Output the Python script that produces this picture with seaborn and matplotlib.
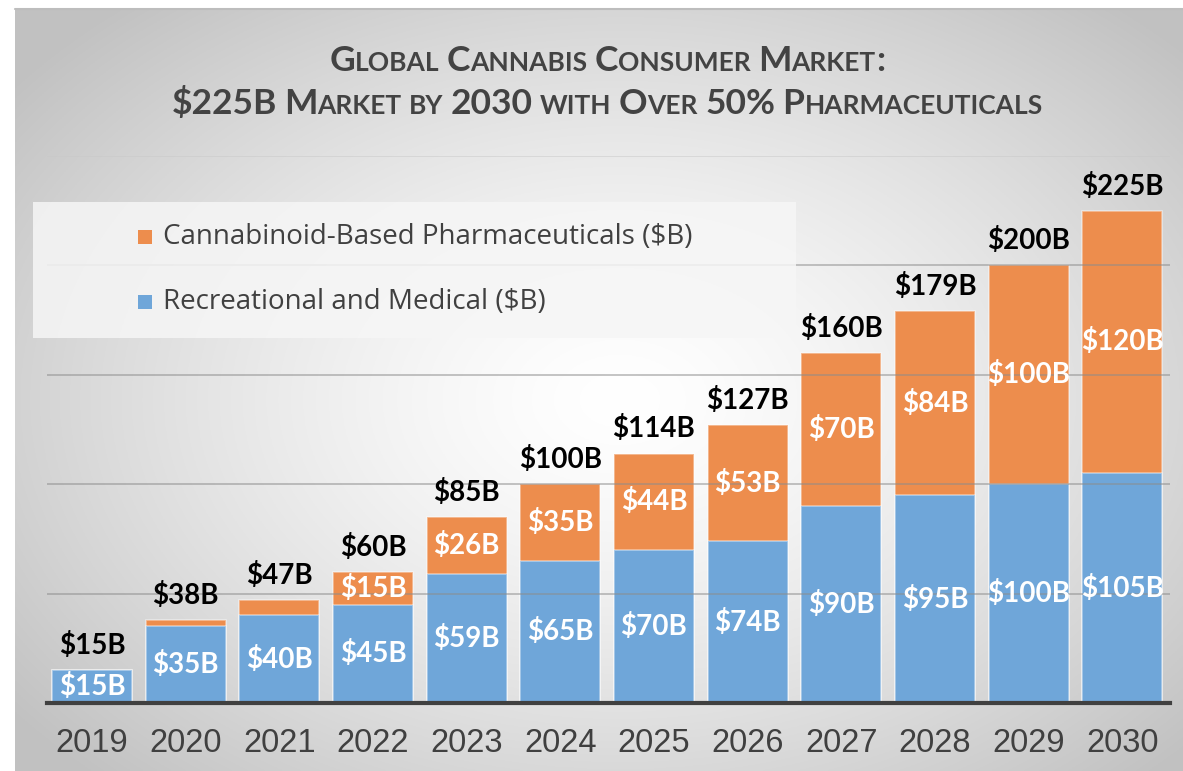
import numpy as np
import pandas as pd
import matplotlib
matplotlib.use("Agg")
import matplotlib.pyplot as plt
from matplotlib.patches import Rectangle
import matplotlib.transforms as mtransforms
import seaborn as sns

# ---------------- data ----------------
years = ["2019", "2020", "2021", "2022", "2023", "2024", "2025", "2026", "2027", "2028", "2029", "2030"]
recreational_medical = [15, 35, 40, 45, 59, 65, 70, 74, 90, 95, 100, 105]
pharmaceuticals = [0, 3, 7, 15, 26, 35, 44, 53, 70, 84, 100, 120]
total_labels = ["$15B", "$38B", "$47B", "$60B", "$85B", "$100B", "$114B", "$127B", "$160B", "$179B", "$200B", "$225B"]
rec_labels = ["$15B", "$35B", "$40B", "$45B", "$59B", "$65B", "$70B", "$74B", "$90B", "$95B", "$100B", "$105B"]
pharm_labels = [None, None, None, "$15B", "$26B", "$35B", "$44B", "$53B", "$70B", "$84B", "$100B", "$120B"]
series_names = ["Cannabinoid-Based Pharmaceuticals ($B)", "Recreational and Medical ($B)"]
title_lines = ["Global Cannabis Consumer Market:", "$225B Market by 2030 with Over 50% Pharmaceuticals"]

BLUE = "#6fa6d9"
ORANGE = "#ed8d4d"

df = pd.DataFrame({"year": years, "rec": recreational_medical, "pharm": pharmaceuticals})
df["total"] = df["rec"] + df["pharm"]

sns.set_theme(style="white")
plt.rcParams["font.family"] = ["Lato", "DejaVu Sans"]

W, H = 1183, 771
fig = plt.figure(figsize=(W / 100, H / 100), dpi=100)
fig.patch.set_facecolor("white")

# ---------------- gradient background panel ----------------
bg = fig.add_axes([15 / W, 0, 1 - 15 / W, 1 - 8 / H], zorder=-10)
gx = np.linspace(15, W, 600)
gy = np.linspace(8, H, 400)
X, Y = np.meshgrid(gx, gy)
d = np.sqrt(((X - 620) / 760) ** 2 + ((Y - 400) / 520) ** 2)
d = np.clip(d, 0, 1)
v = 1.0 - (1.0 - 0.76) * d ** 1.4
img = np.dstack([v, v, v])
bg.imshow(img, aspect="auto", extent=[0, 1, 0, 1], origin="upper")
bg.set_axis_off()
fig.add_artist(plt.Line2D([15 / W, 1], [1 - 8.5 / H, 1 - 8.5 / H], color="#bdbdbd", lw=1.5))

# ---------------- main axes ----------------
ax = fig.add_axes([47 / W, 1 - 703 / H, (1170 - 47) / W, (703 - 156) / H])
ax.set_facecolor("none")

sns.barplot(data=df, x="year", y="total", order=years, color=ORANGE, saturation=1,
            width=0.855, ax=ax, edgecolor=(1, 1, 1, 0.45), linewidth=1.2, zorder=2)
sns.barplot(data=df, x="year", y="rec", order=years, color=BLUE, saturation=1,
            width=0.855, ax=ax, edgecolor=(1, 1, 1, 0.45), linewidth=1.2, zorder=2)

ax.set_ylim(0, 250)
ax.set_xlim(-0.48, 11.51)
for yv in [50, 100, 150, 200, 250]:
    ax.axhline(yv, color="#8c8c8c" if yv < 250 else "#c8c8c8", lw=1.3, alpha=0.55, zorder=3)
ax.set_yticks([])
ax.set_xlabel("")
ax.set_ylabel("")
for s in ["top", "right", "left"]:
    ax.spines[s].set_visible(False)
ax.spines["bottom"].set_color("#404040")
ax.spines["bottom"].set_linewidth(3)
ax.spines["bottom"].set_zorder(5)
ax.tick_params(axis="x", length=0, pad=18, labelsize=23.5, labelcolor="#404040")
for lab in ax.get_xticklabels():
    lab.set_fontfamily(["Liberation Sans", "DejaVu Sans"])

# ---------------- labels ----------------
LFS = 20
above = mtransforms.offset_copy(ax.transData, fig=fig, x=0, y=8, units="points")
for i in range(len(years)):
    r = recreational_medical[i]
    p = pharmaceuticals[i]
    ax.text(i, r / 2, rec_labels[i], ha="center", va="center", color="white", zorder=6,
            fontfamily=["Lato", "DejaVu Sans"], fontweight="bold", fontsize=LFS)
    if pharm_labels[i]:
        ax.text(i, r + p / 2, pharm_labels[i], ha="center", va="center", color="white", zorder=6,
                fontfamily=["Lato", "DejaVu Sans"], fontweight="bold", fontsize=LFS)
    ax.text(i, r + p, total_labels[i], transform=above, ha="center", va="bottom", color="black",
            zorder=6, fontfamily=["Lato", "DejaVu Sans"], fontweight="bold", fontsize=LFS)

# ---------------- legend (manual box) ----------------
fig.add_artist(Rectangle((33 / W, 1 - 338 / H), (796 - 33) / W, (338 - 202) / H,
                         transform=fig.transFigure, facecolor="#f6f6f6", alpha=0.85,
                         edgecolor="none", zorder=4))
leg_rows = [(237, ORANGE, series_names[0]), (302, BLUE, series_names[1])]
for ypx, col, name in leg_rows:
    fig.add_artist(Rectangle((138 / W, 1 - (ypx + 7) / H), 14 / W, 14 / H,
                             transform=fig.transFigure, facecolor=col, edgecolor="none", zorder=5))
    fig.text(163 / W, 1 - ypx / H, name, ha="left", va="center", fontsize=20,
             color="#404040", fontfamily=["Open Sans", "DejaVu Sans"], zorder=6)

# ---------------- small caps title ----------------
renderer = fig.canvas.get_renderer()
BIG, SMALL = 25.5, 19
TCOL = "#434343"
tfam = ["Lato", "DejaVu Sans"]


def measure(s, size):
    t = fig.text(0, 0, s, fontsize=size, fontweight="bold", fontfamily=tfam)
    w = t.get_window_extent(renderer).width
    t.remove()
    return w


def tokens(s):
    out = []
    for ch in s:
        if ch == " ":
            kind = "sp"
        elif ch.islower():
            kind = "sm"
        else:
            kind = "bg"
        if out and out[-1][0] == kind:
            out[-1][1] += ch
        else:
            out.append([kind, ch])
    return out


space_w = measure("A A", BIG) - measure("AA", BIG)


def smallcaps(line, ybase_px):
    toks = tokens(line)
    widths = []
    for kind, s in toks:
        if kind == "sp":
            widths.append(space_w * len(s) * 0.85)
        elif kind == "sm":
            widths.append(measure(s.upper(), SMALL))
        else:
            widths.append(measure(s, BIG))
    total = sum(widths)
    x = 607 - total / 2
    yf = 1 - ybase_px / H
    for (kind, s), w in zip(toks, widths):
        if kind == "sm":
            fig.text(x / W, yf, s.upper(), fontsize=SMALL, fontweight="bold", fontfamily=tfam,
                     color=TCOL, ha="left", va="baseline")
        elif kind == "bg":
            fig.text(x / W, yf, s, fontsize=BIG, fontweight="bold", fontfamily=tfam,
                     color=TCOL, ha="left", va="baseline")
        x += w


smallcaps(title_lines[0], 71)
smallcaps(title_lines[1], 114)

fig.savefig("out.png", dpi=100)
